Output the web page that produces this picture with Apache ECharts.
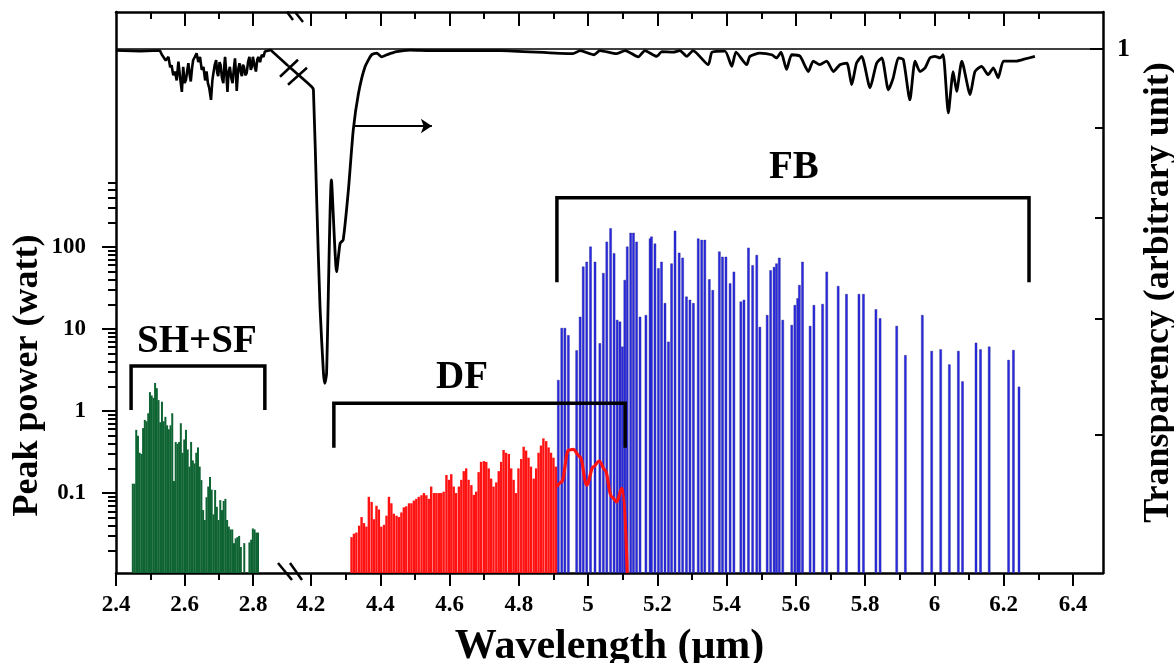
<!DOCTYPE html>
<html>
<head>
<meta charset="utf-8">
<title>Peak power and transparency vs wavelength</title>
<script src="https://cdn.jsdelivr.net/npm/echarts@6/dist/echarts.min.js"></script>
<style>
  html, body { margin: 0; padding: 0; background: #fff; }
  #chart { width: 1174px; height: 663px; }
</style>
</head>
<body>
<div id="chart"></div>
<script>
// ---------- axis extents and tick values ----------
const seg1Range = [2.4, 2.9015];          // wavelength, left part of the broken axis (µm)
const seg2Range = [4.1336, 6.4866];       // wavelength, right part of the broken axis (µm)
const seg1MajorTicks = [2.4, 2.6, 2.8];
const seg1MinorTicks = [2.5, 2.7];
const seg2MajorTicks = [4.2, 4.4, 4.6, 4.8, 5.0, 5.2, 5.4, 5.6, 5.8, 6.0, 6.2, 6.4];
const seg2MinorTicks = [4.3, 4.5, 4.7, 4.9, 5.1, 5.3, 5.5, 5.7, 5.9, 6.1, 6.3];
const seg2TopMajorTicks = [4.2, 4.4, 4.6, 4.8, 5.0, 5.2, 5.4, 5.6, 5.8, 6.0, 6.2];
const powerRange = [0.0106, 694];         // peak power (watt), log scale
const powerLabels = [0.1, 1, 10, 100];
const powerMinorTicks = [0.02, 0.03, 0.04, 0.05, 0.06, 0.07, 0.08, 0.09,
  0.2, 0.3, 0.4, 0.5, 0.6, 0.7, 0.8, 0.9, 2, 3, 4, 5, 6, 7, 8, 9,
  20, 30, 40, 50, 60, 70, 80, 90, 200, 300, 400, 500, 600];
const transparencyRange = [0, 1.0706];
const transparencyMajorTicks = [1];
const transparencyMinorTicks = [0.849, 0.677, 0.485, 0.263];

// ---------- SH+SF lines: [wavelength µm, peak power W] ----------
const shSfLines = [
  [2.449,0.13],[2.454,0.13],[2.459,0.59],[2.464,0.50],[2.469,0.31],[2.474,0.30],[2.479,0.62],[2.484,0.78],
  [2.489,0.75],[2.494,0.94],[2.499,1.70],[2.504,1.55],[2.509,1.45],[2.514,2.20],[2.519,1.90],[2.524,1.36],
  [2.529,0.73],[2.534,1.30],[2.539,0.75],[2.544,0.85],[2.549,0.67],[2.554,0.60],[2.559,0.67],[2.564,0.94],
  [2.569,0.14],[2.574,0.42],[2.579,0.40],[2.584,0.42],[2.589,0.71],[2.594,0.31],[2.599,0.45],[2.604,0.59],
  [2.609,0.34],[2.614,0.21],[2.619,0.42],[2.624,0.25],[2.629,0.23],[2.634,0.31],[2.639,0.36],[2.644,0.21],
  [2.649,0.144],[2.654,0.062],[2.659,0.047],[2.664,0.089],[2.669,0.12],[2.674,0.157],[2.679,0.11],[2.684,0.055],
  [2.689,0.109],[2.694,0.068],[2.699,0.047],[2.704,0.082],[2.709,0.062],[2.714,0.080],[2.719,0.085],[2.724,0.047],
  [2.729,0.039],[2.734,0.036],[2.739,0.036],[2.744,0.0245],[2.749,0.028],[2.754,0.029],[2.759,0.030],[2.764,0.022],
  [2.774,0.0245],[2.789,0.025],[2.794,0.027],[2.799,0.037],[2.804,0.036],[2.809,0.033],[2.814,0.033]
];

// ---------- DF lines ----------
const dfLines = [
  [4.317,0.029],[4.324,0.032],[4.331,0.033],[4.339,0.040],[4.346,0.051],[4.353,0.043],[4.360,0.039],[4.367,0.090],
  [4.375,0.078],[4.382,0.048],[4.389,0.070],[4.396,0.063],[4.403,0.039],[4.411,0.041],[4.418,0.053],[4.425,0.090],
  [4.432,0.075],[4.439,0.056],[4.447,0.053],[4.454,0.051],[4.461,0.058],[4.468,0.067],[4.475,0.069],[4.483,0.075],
  [4.490,0.075],[4.497,0.081],[4.504,0.085],[4.511,0.090],[4.519,0.094],[4.526,0.100],[4.533,0.094],[4.540,0.085],
  [4.547,0.120],[4.555,0.100],[4.562,0.100],[4.569,0.100],[4.576,0.100],[4.583,0.104],[4.591,0.166],[4.598,0.145],
  [4.605,0.170],[4.612,0.120],[4.619,0.100],[4.627,0.120],[4.634,0.145],[4.641,0.185],[4.648,0.200],[4.655,0.145],
  [4.663,0.125],[4.670,0.095],[4.677,0.104],[4.684,0.180],[4.691,0.240],[4.699,0.245],[4.706,0.240],[4.713,0.200],
  [4.720,0.150],[4.727,0.120],[4.735,0.135],[4.742,0.185],[4.749,0.240],[4.756,0.335],[4.763,0.310],[4.771,0.300],
  [4.778,0.200],[4.785,0.145],[4.792,0.100],[4.799,0.200],[4.807,0.260],[4.814,0.367],[4.821,0.330],[4.828,0.270],
  [4.835,0.210],[4.843,0.150],[4.850,0.200],[4.857,0.310],[4.864,0.380],[4.871,0.464],[4.879,0.430],[4.886,0.360],
  [4.893,0.310],[4.900,0.270],[4.907,0.210]
];

// ---------- DF continuum drawn as a line ----------
const dfCurve = [
  [4.909,0.119],[4.924,0.137],[4.943,0.334],[4.957,0.341],[4.977,0.277],[4.996,0.125],[5.015,0.209],
  [5.032,0.246],[5.049,0.191],[5.068,0.090],[5.083,0.078],[5.097,0.114],[5.102,0.099],[5.113,0.0106]
];

// ---------- FB lines ----------
const fbLines = [
  [4.914,2.39],[4.924,10.3],[4.933,10.3],[4.943,8.4],[4.967,5.5],[4.977,14.1],[4.986,57.6],[4.996,66],
  [5.007,101],[5.020,66],[5.034,6.7],[5.044,48],[5.054,116],[5.065,169],[5.075,84],[5.084,12.9],
  [5.092,12.3],[5.099,6.1],[5.106,39.6],[5.113,101],[5.123,149],[5.131,149],[5.140,116],[5.150,14.1],
  [5.167,14.8],[5.179,127],[5.183,134],[5.193,110],[5.203,55],[5.212,66],[5.222,20.7],[5.232,7.0],
  [5.241,63],[5.251,158],[5.263,85],[5.273,74],[5.284,24.8],[5.294,22.7],[5.304,20.7],[5.318,127],
  [5.328,122],[5.337,122],[5.350,40.4],[5.360,29.8],[5.379,88],[5.388,76],[5.398,76],[5.410,36],
  [5.421,50],[5.441,21.6],[5.450,22.7],[5.463,98],[5.475,60],[5.487,80],[5.496,10.6],[5.517,14.8],
  [5.527,52],[5.537,57],[5.544,63],[5.552,74],[5.562,12.9],[5.588,11.2],[5.597,19.6],[5.605,23.7],
  [5.610,34.4],[5.619,66],[5.641,10.9],[5.652,19.6],[5.677,20.2],[5.689,50],[5.722,33.4],[5.746,26.7],
  [5.782,26.7],[5.795,26.7],[5.831,17.4],[5.843,13.5],[5.891,10.9],[5.916,4.8],[5.965,14.8],[5.992,5.4],
  [6.018,5.65],[6.043,3.7],[6.069,5.4],[6.081,2.3],[6.120,6.8],[6.133,5.65],[6.158,6.1],[6.214,4.2],
  [6.228,5.55],[6.244,1.98]
];

// ---------- atmospheric transparency ----------
const transparencyLeft = [
  [2.400,0.997],[2.470,0.996],[2.528,0.997],[2.533,0.990],[2.538,0.992],[2.545,0.978],[2.553,0.985],[2.558,0.965],
  [2.562,0.969],[2.567,0.950],[2.572,0.957],[2.577,0.940],[2.582,0.976],[2.587,0.945],[2.592,0.918],[2.596,0.966],
  [2.600,0.935],[2.604,0.941],[2.608,0.960],[2.611,0.973],[2.615,0.950],[2.618,0.938],[2.622,0.965],[2.625,0.979],
  [2.630,0.985],[2.635,0.992],[2.640,0.975],[2.645,0.985],[2.650,0.960],[2.655,0.966],[2.660,0.940],[2.664,0.957],
  [2.668,0.935],[2.672,0.925],[2.677,0.903],[2.681,0.940],[2.684,0.954],[2.688,0.970],[2.692,0.979],[2.695,0.955],
  [2.698,0.948],[2.702,0.975],[2.705,0.969],[2.709,0.945],[2.713,0.935],[2.716,0.970],[2.718,0.985],[2.722,0.950],
  [2.725,0.918],[2.728,0.955],[2.732,0.966],[2.736,0.945],[2.740,0.935],[2.744,0.965],[2.747,0.982],[2.750,0.950],
  [2.752,0.920],[2.756,0.960],[2.760,0.973],[2.764,0.955],[2.767,0.948],[2.770,0.970],[2.773,0.966],[2.777,0.950],
  [2.781,0.954],[2.785,0.975],[2.789,0.985],[2.793,0.960],[2.796,0.966],[2.799,0.985],[2.802,0.982],[2.805,0.965],
  [2.808,0.957],[2.812,0.980],[2.815,0.985],[2.820,0.975],[2.825,0.989],[2.830,0.985],[2.834,0.995],[2.851,0.998],
  [2.9015,0.968]
];
const transparencyRight = [
  [4.1336,0.968],[4.202,0.928],[4.207,0.922],[4.217,0.699],[4.226,0.508],[4.236,0.381],[4.240,0.362],[4.245,0.381],
  [4.259,0.750],[4.274,0.575],[4.284,0.629],[4.293,0.636],[4.308,0.731],[4.322,0.845],[4.337,0.915],[4.356,0.966],
  [4.375,0.989],[4.390,0.992],[4.404,0.985],[4.419,0.989],[4.447,0.995],[4.486,0.998],[4.544,0.997],[4.746,0.997],
  [4.956,0.991],[4.977,0.997],[5.017,0.989],[5.034,0.997],[5.083,0.991],[5.107,0.997],[5.145,0.985],[5.164,0.997],
  [5.198,0.986],[5.213,0.995],[5.246,0.994],[5.265,0.997],[5.285,0.986],[5.303,0.997],[5.347,0.970],[5.358,0.994],
  [5.395,0.996],[5.415,0.967],[5.427,0.994],[5.458,0.970],[5.467,0.986],[5.496,0.992],[5.530,0.989],[5.544,0.983],
  [5.557,0.994],[5.573,0.961],[5.588,0.989],[5.612,0.986],[5.636,0.957],[5.650,0.977],[5.669,0.970],[5.689,0.977],
  [5.708,0.957],[5.727,0.970],[5.747,0.973],[5.761,0.932],[5.775,0.973],[5.790,0.986],[5.814,0.926],[5.833,0.973],
  [5.848,0.983],[5.867,0.922],[5.881,0.945],[5.896,0.983],[5.910,0.980],[5.929,0.903],[5.944,0.977],[5.958,0.957],
  [5.973,0.964],[5.987,0.983],[6.001,0.986],[6.016,0.983],[6.025,0.989],[6.040,0.878],[6.054,0.957],[6.064,0.919],
  [6.079,0.977],[6.103,0.913],[6.117,0.957],[6.136,0.967],[6.155,0.951],[6.170,0.964],[6.184,0.945],[6.199,0.977],
  [6.218,0.977],[6.237,0.977],[6.256,0.980],[6.290,0.986]
];

// ---------- band brackets and their labels ----------
const bandNames = ['SH+SF', 'DF', 'FB'];
const bandSpans = [[2.444, 2.834], [4.266, 5.107], [4.910, 6.273]];      // µm
const bandLevels = [[0.395, 0.311], [0.324, 0.239], [0.716, 0.555]];     // bar level, leg end
const bandLabelAt = [[2.636, 0.441], [4.636, 0.372], [5.594, 0.773]];
const arrowSpan = [[4.327, 0.853], [4.549, 0.853]];

// ---------- chart ----------
const FONT = '"Liberation Serif", "Times New Roman", serif';
const AXIS_W = 2.5;

function tickAxis(gridIndex, range, position, ticks, length, inside, extra) {
  return Object.assign({
    type: 'value', gridIndex: gridIndex, position: position,
    min: range[0], max: range[1],
    axisLine: { show: false, onZero: false },
    axisTick: { show: true, inside: inside, length: length, customValues: ticks,
      lineStyle: { color: '#000', width: 2 } },
    axisLabel: { show: false },
    splitLine: { show: false }
  }, extra || {});
}
const solidLine = { show: true, onZero: false, lineStyle: { color: '#000', width: AXIS_W } };
function tickLabels(values, size, margin) {
  return { show: true, customValues: values, color: '#000', fontFamily: FONT,
    fontWeight: 'bold', fontSize: size, margin: margin };
}
function hiddenAxis(gridIndex, range, type) {
  return { type: type || 'value', gridIndex: gridIndex, min: range[0], max: range[1], show: false,
    axisLine: { onZero: false }, splitLine: { show: false } };
}

const xAxes = [
  tickAxis(0, seg1Range, 'bottom', seg1MajorTicks, 13, false,
    { axisLine: solidLine, axisLabel: tickLabels(seg1MajorTicks, 23, 21) }),
  tickAxis(0, seg1Range, 'bottom', seg1MinorTicks, 7, false),
  tickAxis(0, seg1Range, 'top', [2.6, 2.8], 14, true, { axisLine: solidLine }),
  tickAxis(0, seg1Range, 'top', seg1MinorTicks, 7, true),
  tickAxis(1, seg2Range, 'bottom', seg2MajorTicks, 13, false,
    { axisLine: solidLine, axisLabel: tickLabels(seg2MajorTicks, 23, 21) }),
  tickAxis(1, seg2Range, 'bottom', seg2MinorTicks, 7, false),
  tickAxis(1, seg2Range, 'top', seg2TopMajorTicks, 14, true, { axisLine: solidLine }),
  tickAxis(1, seg2Range, 'top', seg2MinorTicks, 7, true),
  hiddenAxis(2, seg1Range),
  hiddenAxis(3, seg2Range),
  {
    type: 'value', gridIndex: 4, min: 0, max: 1, position: 'bottom',
    axisLine: { show: false }, axisTick: { show: false }, axisLabel: { show: false }, splitLine: { show: false },
    name: 'Wavelength (μm)', nameLocation: 'middle', nameGap: 53,
    nameTextStyle: { fontFamily: FONT, fontWeight: 'bold', fontSize: 42, color: '#000' }
  }
];

const yAxes = [
  tickAxis(0, transparencyRange, 'left', [], 0, true, { axisLine: solidLine, axisTick: { show: false } }),
  tickAxis(1, transparencyRange, 'right', transparencyMajorTicks, 13, true, {
    axisLine: solidLine,
    axisLabel: tickLabels(transparencyMajorTicks, 26, 14),
    name: 'Transparency (arbitrary unit)', nameLocation: 'middle', nameGap: 36, nameRotate: 90,
    nameTextStyle: { fontFamily: FONT, fontWeight: 'bold', fontSize: 36, color: '#000' }
  }),
  tickAxis(1, transparencyRange, 'right', transparencyMinorTicks, 8, true),
  Object.assign(tickAxis(2, powerRange, 'left', powerLabels, 14, false, {
    axisLabel: Object.assign(tickLabels(powerLabels, 23, 30), { formatter: v => String(v) }),
    name: 'Peak power (watt)', nameLocation: 'middle', nameGap: 70, nameRotate: 90,
    nameTextStyle: { fontFamily: FONT, fontWeight: 'bold', fontSize: 36, color: '#000' }
  }), { type: 'log', logBase: 10, startValue: powerRange[0] }),
  Object.assign(tickAxis(2, powerRange, 'left', powerMinorTicks, 8, false),
    { type: 'log', logBase: 10, startValue: powerRange[0] }),
  Object.assign(hiddenAxis(3, powerRange, 'log'), { logBase: 10, startValue: powerRange[0] }),
  hiddenAxis(4, [0, 1])
];

const series = [
  { name: 'SH+SF', type: 'bar', xAxisIndex: 8, yAxisIndex: 3, data: shSfLines,
    barWidth: 2, itemStyle: { color: '#0e6432' }, silent: true },
  { name: 'DF', type: 'bar', xAxisIndex: 9, yAxisIndex: 5, data: dfLines, barGap: '-100%',
    barWidth: 2.4, itemStyle: { color: '#ff1212' }, silent: true },
  { name: 'FB', type: 'bar', xAxisIndex: 9, yAxisIndex: 5, data: fbLines, barGap: '-100%',
    barWidth: 2.4, itemStyle: { color: '#2a2ae6', borderColor: '#1a1a8c', borderWidth: 0.4 }, silent: true },
  { name: 'DF continuum', type: 'line', xAxisIndex: 9, yAxisIndex: 5, data: dfCurve,
    smooth: 0.35, smoothMonotone: 'x', symbol: 'none', lineStyle: { color: '#ff1212', width: 3.2 }, silent: true },
  { name: 'Transparency', type: 'line', xAxisIndex: 0, yAxisIndex: 0, data: transparencyLeft,
    symbol: 'none', lineStyle: { color: '#000', width: 2.6 }, silent: true,
    markLine: { silent: true, symbol: 'none', label: { show: false },
      lineStyle: { color: '#000', width: 1.5, type: 'solid' }, data: [{ yAxis: 1 }] } },
  { name: 'Transparency ', type: 'line', xAxisIndex: 4, yAxisIndex: 1, data: transparencyRight,
    symbol: 'none', smooth: 0.2, lineStyle: { color: '#000', width: 2.8 }, silent: true,
    markLine: { silent: true, symbol: 'none', label: { show: false },
      lineStyle: { color: '#000', width: 1.5, type: 'solid' }, data: [{ yAxis: 1 }] } },
  { name: 'arrow', type: 'line', xAxisIndex: 4, yAxisIndex: 1, data: [], silent: true,
    markLine: { silent: true, symbol: ['none', 'arrow'], symbolSize: 11, label: { show: false },
      lineStyle: { color: '#000', width: 2, type: 'solid' },
      data: [[{ coord: arrowSpan[0] }, { coord: arrowSpan[1] }]] } }
];

bandNames.forEach(function (name, i) {
  const axes = i === 0 ? { xAxisIndex: 0, yAxisIndex: 0 } : { xAxisIndex: 4, yAxisIndex: 1 };
  const span = bandSpans[i], lev = bandLevels[i];
  series.push(Object.assign({
    name: name + ' bracket', type: 'line', symbol: 'none', silent: true,
    data: [[span[0], lev[1]], [span[0], lev[0]], [span[1], lev[0]], [span[1], lev[1]]],
    lineStyle: { color: '#000', width: 3.5, join: 'miter', cap: 'butt' }
  }, axes));
  series.push(Object.assign({
    name: name + ' label', type: 'scatter', symbolSize: 0, silent: true,
    itemStyle: { color: '#000', opacity: 1 },
    data: [bandLabelAt[i]],
    labelLayout: { hideOverlap: false },
    label: { show: true, position: 'inside', formatter: name, color: '#000', opacity: 1,
      textBorderWidth: 0, fontFamily: FONT, fontWeight: 'bold', fontSize: 39 }
  }, axes));
});

const chart = echarts.init(document.getElementById('chart'), null, { renderer: 'canvas' });
chart.setOption({
  animation: false,
  backgroundColor: '#fff',
  grid: [
    { left: 116, top: 12, width: 172, height: 561, outerBoundsMode: 'none' },
    { left: 288, top: 12, width: 815, height: 561, outerBoundsMode: 'none' },
    { left: 116, top: 178, width: 172, height: 395, outerBoundsMode: 'none' },
    { left: 288, top: 178, width: 815, height: 395, outerBoundsMode: 'none' },
    { left: 116, top: 12, width: 987, height: 561, outerBoundsMode: 'none' }
  ],
  xAxis: xAxes,
  yAxis: yAxes,
  series: series
});

// axis-break marks on the frame and on the transparency trace
const bottomBreak = chart.convertToPixel({ xAxisIndex: 0, yAxisIndex: 0 }, [seg1Range[1], transparencyRange[0]]);
const topBreak = chart.convertToPixel({ xAxisIndex: 0, yAxisIndex: 0 }, [seg1Range[1], transparencyRange[1]]);
const traceBreak = chart.convertToPixel({ xAxisIndex: 4, yAxisIndex: 1 }, transparencyRight[0]);
function slash(p, a, b) {
  return { type: 'line', silent: true, z: 100,
    shape: { x1: p[0] + a[0], y1: p[1] + a[1], x2: p[0] + b[0], y2: p[1] + b[1] },
    style: { stroke: '#000', lineWidth: 2.5 } };
}
chart.setOption({
  graphic: [
    slash(topBreak, [-1, 0], [5, 8]), slash(topBreak, [7, 0], [15, 10]),
    slash(bottomBreak, [-10, -10], [4, 7]), slash(bottomBreak, [2, -10], [14, 7]),
    slash(traceBreak, [-8, 11], [10, -6]), slash(traceBreak, [0, 19], [19, 2])
  ]
});
</script>
</body>
</html>
